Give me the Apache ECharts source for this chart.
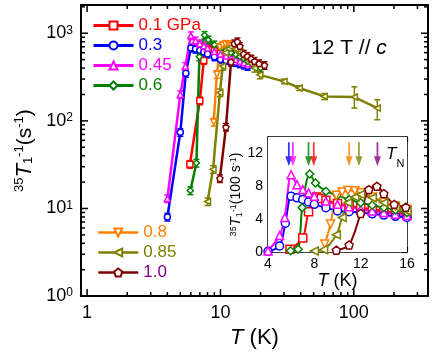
<!DOCTYPE html>
<html>
<head>
<meta charset="utf-8">
<script src="https://cdn.jsdelivr.net/npm/echarts@6/dist/echarts.min.js"></script>
<style>
html, body { margin: 0; padding: 0; background: #fff; }
#chart { width: 436px; height: 354px; }
</style>
</head>
<body>
<div id="chart"></div>
<script>
// 35Cl 1/T1 at 12 T // c, one pair of arrays per pressure (T in K, rate in s^-1)
var T01 = [5.9, 7.0, 7.5, 8.2, 8.6, 9.0, 10, 11, 12, 13, 14, 15, 16];
var R01 = [32, 170, 490, 670, 650, 630, 590, 560, 540, 520, 500, 480, 460];
var T03 = [4.0, 5.0, 5.5, 6.0, 6.5, 7.0, 7.5, 8.0, 9.0, 10, 11, 12, 13, 14, 15, 16];
var R03 = [8, 74, 350, 680, 660, 640, 610, 580, 540, 500, 490, 480, 465, 450, 435, 420];
var T045 = [4.0, 5.0, 5.45, 6.0, 6.5, 7.0, 7.5, 8.0, 9.0, 10, 11, 12, 13, 14, 15, 16];
var R045 = [13, 200, 420, 940, 820, 760, 720, 680, 620, 580, 550, 520, 500, 480, 460, 445];
var T06 = [5.95, 6.6, 6.95, 7.6, 8.1, 9.0, 10, 11, 12, 13, 14, 15, 16, 18, 20];
var R06 = [16, 33, 540, 950, 840, 740, 690, 640, 600, 570, 540, 510, 480, 440, 400];
var T08 = [8.9, 9.4, 9.9, 10.4, 10.9, 11.5, 12, 13, 14, 15, 16, 18];
var R08 = [97, 340, 690, 730, 750, 745, 720, 670, 610, 560, 520, 450];
var T085 = [8.0, 8.8, 9.9, 10.4, 10.9, 11.5, 12.0, 13, 14, 15, 16, 17, 18, 19.7, 30, 39, 60, 101, 150];
var R085 = [12, 28, 210, 420, 600, 670, 700, 660, 600, 550, 500, 450, 400, 335, 282, 237, 190, 187, 140];
var T10 = [9.9, 11.0, 12.0, 12.7, 13.4, 14.0, 14.9, 15.9, 17, 18, 19.5, 21.4];
var R10 = [22, 85, 470, 760, 800, 710, 580, 545, 510, 480, 450, 430];

// big error bars on the high-T tail of 0.85 GPa: [T, low, high]
var err085Tail = [[30, 265, 300], [39, 222, 252], [60, 175, 205], [101, 140, 245], [150, 103, 174]];
var errFrac = 0.1; // typical relative error elsewhere

// Neel temperatures (arrows in inset)
var tnValues = [5.8, 6.15, 7.5, 7.95, 11.0, 11.85, 13.45];

var names = ['0.1 GPa', '0.3', '0.45', '0.6', '0.8', '0.85', '1.0'];
var temps = [T01, T03, T045, T06, T08, T085, T10];
var rates = [R01, R03, R045, R06, R08, R085, R10];

var colors = ['#ff0000', '#0000ff', '#ff00ff', '#008000', '#ff8000', '#808000', '#800000'];
var textColors = ['#ff0000', '#0000ff', '#ff00ff', '#008000', '#ff8000', '#808000', '#800080'];
var tnColors = ['#0000ff', '#ff00ff', '#008000', '#ff0000', '#ff8000', '#808000', '#800080'];
var pentagon = 'path://M5,0 L9.76,3.45 L7.94,9.05 L2.06,9.05 L0.24,3.45 Z';
var symbols = ['rect', 'circle', 'triangle', 'diamond', 'triangle', 'triangle', pentagon];
var rotates = [0, 0, 0, 0, 180, 90, 0];
var arrowPath = 'path://M3,0 L5,0 L5,14 L8,14 L4,24 L0,14 L3,14 Z';

var FONT = 'Liberation Sans, Arial, sans-serif';
var lg = function (v) { return Math.log10(v); };

var xMin = lg(0.9), xMax = lg(360);
var yMin = 0, yMax = lg(2100);

// tick marks on the log axes: [position, length]; majors at decades, minors at 2..9
var xTicks = [], yTicks = [];
for (var d = 0; d < 4; d++) {
    for (var k = 1; k < 10; k++) {
        var v = lg(k * Math.pow(10, d));
        var len = k === 1 ? 7 : 4;
        if (v < xMax) xTicks.push([v, len]);
        if (v < yMax) yTicks.push([v, len]);
    }
}

var frame = { color: '#000', width: 2 };

function mainAxis(pos, min, max) {
    return {
        gridIndex: 0, type: 'value', position: pos, min: min, max: max,
        axisLine: { show: true, onZero: false, lineStyle: frame },
        axisTick: { show: false },
        axisLabel: { show: false },
        splitLine: { show: false }
    };
}

var xAxes = [mainAxis('bottom', xMin, xMax), mainAxis('top', xMin, xMax)];
xAxes[0].axisLabel = {
    show: true, customValues: [0, 1, 2], fontSize: 18, color: '#000', margin: 8, fontFamily: FONT,
    formatter: function (v) { return String(Math.round(Math.pow(10, v))); }
};
xAxes[0].name = '{it|T} (K)';
xAxes[0].nameLocation = 'middle';
xAxes[0].nameGap = 26;
xAxes[0].nameTextStyle = { fontSize: 22, color: '#000', fontFamily: FONT,
    rich: { it: { fontSize: 22, fontStyle: 'italic', fontFamily: FONT } } };

var yAxes = [mainAxis('left', yMin, yMax), mainAxis('right', yMin, yMax)];
yAxes[0].axisLabel = {
    show: true, customValues: [0, 1, 2, 3], margin: 8, color: '#000',
    formatter: function (v) { return '{b|10}{s|' + Math.round(v) + '}'; },
    rich: {
        b: { fontSize: 18, fontFamily: FONT, color: '#000', verticalAlign: 'bottom' },
        s: { fontSize: 12, fontFamily: FONT, color: '#000', verticalAlign: 'top' }
    }
};
yAxes[0].name = '{sup|35}{it|T}{sub|1}{sup|-1}{n|(s}{sup|-1}{n|)}';
yAxes[0].nameLocation = 'middle';
yAxes[0].nameRotate = 90;
yAxes[0].nameGap = 44;
yAxes[0].nameTextStyle = {
    color: '#000', fontFamily: FONT,
    rich: {
        n: { fontSize: 21, fontFamily: FONT, verticalAlign: 'bottom' },
        it: { fontSize: 22, fontFamily: FONT, fontStyle: 'italic', verticalAlign: 'bottom' },
        sup: { fontSize: 13, fontFamily: FONT, verticalAlign: 'top' },
        sub: { fontSize: 13, fontFamily: FONT, verticalAlign: 'bottom' }
    }
};

// inset axes
var insetLine = { onZero: false, lineStyle: { color: '#000', width: 1.5 } };
var insetTick = { inside: true, length: 5, lineStyle: { color: '#000', width: 1.2 } };
xAxes.push({
    gridIndex: 1, type: 'value', position: 'bottom', min: 4, max: 16, interval: 4,
    axisLine: insetLine, axisTick: insetTick,
    minorTick: { show: true, splitNumber: 2, length: 3, lineStyle: { color: '#000', width: 1 } },
    axisLabel: { fontSize: 14, color: '#000', margin: 5, fontFamily: FONT },
    splitLine: { show: false },
    name: '{it|T} (K)', nameLocation: 'middle', nameGap: 15,
    nameTextStyle: { fontSize: 18, color: '#000', fontFamily: FONT,
        rich: { it: { fontSize: 18, fontStyle: 'italic', fontFamily: FONT } } }
});
xAxes.push({
    gridIndex: 1, type: 'value', position: 'top', min: 4, max: 16, interval: 4,
    axisLine: insetLine, axisTick: insetTick,
    minorTick: { show: true, splitNumber: 2, length: 3, lineStyle: { color: '#000', width: 1 } },
    axisLabel: { show: false }, splitLine: { show: false }
});
yAxes.push({
    gridIndex: 1, type: 'value', position: 'left', min: 0, max: 14, interval: 2,
    axisLine: insetLine, axisTick: insetTick,
    axisLabel: { fontSize: 14, color: '#000', margin: 5, fontFamily: FONT,
        formatter: function (v) { return v % 4 === 0 ? String(v) : ''; } },
    splitLine: { show: false },
    name: '{sup|35}{it|T}{sub|1}{sup|-1}{n|(100 s}{sup|-1}{n|)}', nameLocation: 'middle', nameRotate: 90, nameGap: 22,
    nameTextStyle: {
        color: '#000', fontFamily: FONT,
        rich: {
            n: { fontSize: 14, fontFamily: FONT, verticalAlign: 'bottom' },
            it: { fontSize: 15, fontFamily: FONT, fontStyle: 'italic', verticalAlign: 'bottom' },
            sup: { fontSize: 9, fontFamily: FONT, verticalAlign: 'top' },
            sub: { fontSize: 9, fontFamily: FONT, verticalAlign: 'bottom' }
        }
    }
});
yAxes.push({
    gridIndex: 1, type: 'value', position: 'right', min: 0, max: 14, interval: 2,
    axisLine: insetLine, axisTick: insetTick,
    axisLabel: { show: false }, splitLine: { show: false }
});

var series = [];

// inward ticks on all four sides of the main log-log frame
series.push({
    type: 'custom', name: 'xticks', xAxisIndex: 0, yAxisIndex: 0, silent: true, clip: false, z: 6,
    data: xTicks,
    renderItem: function (params, api) {
        var cs = params.coordSys;
        var px = api.coord([api.value(0), 1])[0];
        var L = api.value(1);
        var st = { stroke: '#000', lineWidth: 1.5 };
        return { type: 'group', children: [
            { type: 'line', shape: { x1: px, y1: cs.y + cs.height, x2: px, y2: cs.y + cs.height - L }, style: st },
            { type: 'line', shape: { x1: px, y1: cs.y, x2: px, y2: cs.y + L }, style: st }
        ] };
    }
});
series.push({
    type: 'custom', name: 'yticks', xAxisIndex: 0, yAxisIndex: 0, silent: true, clip: false, z: 6,
    data: yTicks,
    renderItem: function (params, api) {
        var cs = params.coordSys;
        var py = api.coord([1, api.value(0)])[1];
        var L = api.value(1);
        var st = { stroke: '#000', lineWidth: 1.5 };
        return { type: 'group', children: [
            { type: 'line', shape: { x1: cs.x, y1: py, x2: cs.x + L, y2: py }, style: st },
            { type: 'line', shape: { x1: cs.x + cs.width, y1: py, x2: cs.x + cs.width - L, y2: py }, style: st }
        ] };
    }
});

names.forEach(function (name, i) {
    var T = temps[i], R = rates[i];
    // error bars in the main panel
    var errData = T.map(function (t, j) {
        var lo = R[j] * (1 - errFrac), hi = R[j] * (1 + errFrac);
        if (i === 5) {
            err085Tail.forEach(function (e) { if (e[0] === t) { lo = e[1]; hi = e[2]; } });
        }
        return [lg(t), lg(lo), lg(hi)];
    });
    series.push({
        type: 'custom', name: name + ' err', xAxisIndex: 0, yAxisIndex: 0, z: 2, silent: true,
        data: errData, clip: true,
        renderItem: (function (c) {
            return function (params, api) {
                var p1 = api.coord([api.value(0), api.value(1)]);
                var p2 = api.coord([api.value(0), api.value(2)]);
                var w = 3;
                var st = { stroke: c, lineWidth: 1.5 };
                return { type: 'group', children: [
                    { type: 'line', shape: { x1: p1[0], y1: p1[1], x2: p2[0], y2: p2[1] }, style: st },
                    { type: 'line', shape: { x1: p1[0] - w, y1: p1[1], x2: p1[0] + w, y2: p1[1] }, style: st },
                    { type: 'line', shape: { x1: p2[0] - w, y1: p2[1], x2: p2[0] + w, y2: p2[1] }, style: st }
                ] };
            };
        })(colors[i])
    });
    series.push({
        type: 'line', name: name, xAxisIndex: 0, yAxisIndex: 0, z: 3,
        data: T.map(function (t, j) { return [lg(t), lg(R[j])]; }),
        symbol: symbols[i], symbolRotate: rotates[i], symbolSize: 6, showAllSymbol: true,
        lineStyle: { color: colors[i], width: 2.5 },
        itemStyle: { color: '#fff', borderColor: colors[i], borderWidth: 1.5 },
        emphasis: { disabled: true }, animation: false
    });
    series.push({
        type: 'line', name: name + ' inset', xAxisIndex: 2, yAxisIndex: 2, z: 4,
        data: T.map(function (t, j) { return [t, R[j] / 100]; }),
        smooth: 0.3, clip: true,
        symbol: symbols[i], symbolRotate: rotates[i], symbolSize: 8, showAllSymbol: true,
        lineStyle: { color: colors[i], width: 2 },
        itemStyle: { color: '#fff', borderColor: colors[i], borderWidth: 1.5 },
        emphasis: { disabled: true }, animation: false
    });
});
series.push({
    type: 'scatter', name: 'TN', xAxisIndex: 2, yAxisIndex: 2, z: 5,
    symbol: arrowPath, symbolSize: [7, 24],
    data: tnValues.map(function (t, i) { return { value: [t, 11.9], itemStyle: { color: tnColors[i] } }; }),
    emphasis: { disabled: true }, animation: false
});

function legendItems(from, to) {
    return names.slice(from, to).map(function (n, j) {
        return { name: n, textStyle: { color: textColors[from + j] } };
    });
}

var option = {
    animation: false,
    backgroundColor: '#fff',
    textStyle: { fontFamily: FONT },
    grid: [
        { left: 81, right: 8, top: 5, bottom: 56 },
        { left: 268, top: 137, width: 139, height: 115, show: true, backgroundColor: '#fff', borderWidth: 0, z: 2 }
    ],
    xAxis: xAxes,
    yAxis: yAxes,
    legend: [
        { data: legendItems(0, 4), orient: 'vertical', left: 92, top: 17, itemWidth: 40, itemHeight: 10, itemGap: 3,
          padding: 0, selectedMode: false, textStyle: { fontSize: 17, fontFamily: FONT }, lineStyle: { width: 3 } },
        { data: legendItems(4, 7), orient: 'vertical', left: 97, top: 224, itemWidth: 40, itemHeight: 10, itemGap: 3,
          padding: 0, selectedMode: false, textStyle: { fontSize: 17, fontFamily: FONT }, lineStyle: { width: 2.5 } }
    ],
    graphic: [
        { type: 'text', left: 311, top: 38, z: 10,
          style: { text: '{n|12 T // }{it|c}', rich: {
              n: { fontSize: 21, fontFamily: FONT, fill: '#000' },
              it: { fontSize: 21, fontFamily: FONT, fontStyle: 'italic', fill: '#000' } } } },
        { type: 'text', left: 386, top: 146, z: 10,
          style: { text: '{it|T}{sub|N}', rich: {
              it: { fontSize: 17, fontFamily: FONT, fontStyle: 'italic', fill: '#000', verticalAlign: 'top' },
              sub: { fontSize: 11, fontFamily: FONT, fill: '#000', verticalAlign: 'bottom', padding: [0, 0, -6, 0] } } } }
    ],
    series: series
};

var chart = echarts.init(document.getElementById('chart'));
chart.setOption(option);
</script>
</body>
</html>
